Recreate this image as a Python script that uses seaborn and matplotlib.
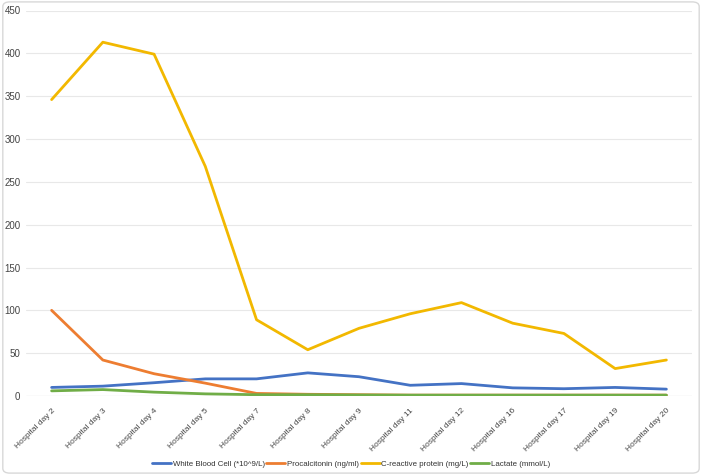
import matplotlib
matplotlib.use("Agg")
import matplotlib.pyplot as plt
import matplotlib.transforms as mtrans
import seaborn as sns
import pandas as pd
from matplotlib.patches import FancyBboxPatch
from matplotlib.lines import Line2D

days = ["Hospital day 2", "Hospital day 3", "Hospital day 4", "Hospital day 5",
        "Hospital day 7", "Hospital day 8", "Hospital day 9", "Hospital day 11",
        "Hospital day 12", "Hospital day 16", "Hospital day 17", "Hospital day 19",
        "Hospital day 20"]
wbc = [10, 11.5, 15.5, 20, 20, 27, 22.5, 12.5, 14.5, 9.5, 8.5, 10, 8]
pct = [100, 42, 26, 15, 3, 2, 1.5, 1, 1, 1, 1, 1, 1]
crp = [346, 413, 399, 268, 89, 54, 79, 96, 109, 85, 73, 32, 42]
lac = [6, 7.5, 4.5, 2.5, 1.5, 1.5, 1.2, 1, 1, 1, 1, 1, 1]
series_names = ["White Blood Cell (*10^9/L)", "Procalcitonin (ng/ml)",
                "C-reactive protein (mg/L)", "Lactate (mmol/L)"]
colors = ["#4472C4", "#ED7D31", "#F2B800", "#70AD47"]

rows = []
for name, vals in zip(series_names, [wbc, pct, crp, lac]):
    for i, (d, v) in enumerate(zip(days, vals)):
        rows.append({"idx": i, "day": d, "value": v, "series": name})
df = pd.DataFrame(rows)

sns.set_style("white")
plt.rcParams["font.family"] = ["Liberation Sans", "DejaVu Sans"]

fig = plt.figure(figsize=(7.02, 4.75), dpi=100)
ax = fig.add_axes([26 / 702, 1 - 396 / 475, (692 - 26) / 702, (396 - 10.5) / 475])

sns.lineplot(data=df, x="idx", y="value", hue="series", hue_order=series_names,
             palette=colors, linewidth=2, ax=ax, legend=False, sort=False)

ax.set_xlim(-0.5, len(days) - 0.5)
ax.set_ylim(0, 450)
ax.set_yticks(range(0, 451, 50))
ax.set_xticks(range(len(days)))
ax.set_xticklabels(days, rotation=45, ha="right", rotation_mode="anchor",
                   fontsize=6, color="#444444")
offset = mtrans.ScaledTranslation(3 / 100, 0, fig.dpi_scale_trans)
for lbl in ax.get_xticklabels():
    lbl.set_transform(lbl.get_transform() + offset)
ax.tick_params(axis="y", labelsize=7, labelcolor="#444444", length=0, pad=4)
ax.tick_params(axis="x", length=0, pad=8)
ax.set_xlabel("")
ax.set_ylabel("")
ax.grid(axis="y", color="#e8e8e8", linewidth=0.8)
ax.set_axisbelow(True)
for s in ax.spines.values():
    s.set_visible(False)
ax.axhline(0, color="#d0d0d0", linewidth=0.8, zorder=0)

handles = [Line2D([0], [0], color=c, linewidth=2) for c in colors]
fig.legend(handles, series_names, loc="center", bbox_to_anchor=(0.5, 1 - 464 / 475),
           ncol=4, frameon=False, fontsize=5.7, handlelength=2.4, handletextpad=0.2,
           columnspacing=0.2, labelcolor="#333333")

border = FancyBboxPatch((0.004, 0.004), 0.992, 0.992, boxstyle="round,pad=0,rounding_size=0.01",
                        transform=fig.transFigure, fill=False, edgecolor="#d8d8d8", linewidth=1)
fig.patches.append(border)

fig.savefig("out.png", dpi=100, facecolor="white")
